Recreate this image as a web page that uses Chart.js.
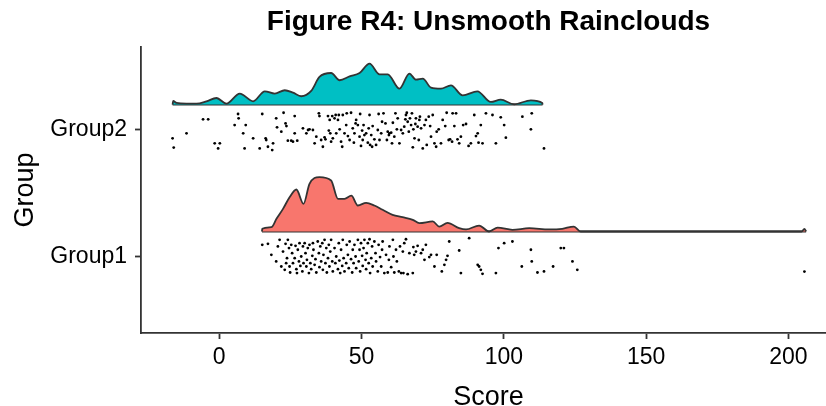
<!DOCTYPE html>
<html>
<head>
<meta charset="utf-8">
<script src="https://cdn.jsdelivr.net/npm/chart.js@4/dist/chart.umd.min.js"></script>
<style>
  html, body { margin: 0; padding: 0; background: #ffffff; overflow: hidden; }
  #wrap { width: 840px; height: 406px; }
</style>
</head>
<body>
<div id="wrap"><canvas id="c" width="840" height="406"></canvas></div>
<script>
// ---- Data ----
const groups = ["Group1", "Group2"];
const xTicks = [0, 50, 100, 150, 200];

// Raincloud densities (score, density height above the cloud baseline, in group units)
const g2DensX = [-16.4,-16.2,-15.0,-11.5,-8.0,-4.5,-1.0,2.5,7.2,11.9,16.0,19.5,23.0,25.9,28.8,32.3,35.2,39.3,42.3,45.8,49.3,52.8,56.3,59.2,63.3,66.8,69.1,71.5,74.4,77.9,81.4,85.5,90.7,95.4,98.9,103.6,109.5,113.5,113.6];
const g2DensY = [0,0.029,0.013,0.008,0.008,0.026,0.052,0.008,0.087,0.026,0.105,0.087,0.113,0.094,0.066,0.108,0.218,0.249,0.192,0.223,0.249,0.323,0.239,0.239,0.126,0.244,0.197,0.205,0.134,0.126,0.152,0.073,0.105,0.021,0.039,0.003,0.034,0.013,0];

const g1DensX = [15.0,15.1,18.3,20.1,22.4,24.7,27.1,29.6,31.7,35.2,39.3,41.7,44.0,46.4,48.7,51.6,54.5,57.4,60.9,64.4,68.0,70.3,75.0,77.3,80.2,84.3,86.7,91.3,94.8,97.8,103.0,108.9,115.9,120.5,124.6,127.0,204.6,205.6,206.2];
const g1DensY = [0,0.021,0.034,0.100,0.178,0.270,0.331,0.218,0.375,0.428,0.402,0.257,0.257,0.283,0.205,0.226,0.205,0.171,0.131,0.113,0.092,0.066,0.079,0.039,0.068,0.026,0.016,0.047,0,0.031,0.013,0.026,0.016,0.021,0.039,0,0,0.02,0];

// Rain (raw scores) and their vertical jitter around the group line
const g2Scores = [-16.4,-16.0,-11.5,-5.7,-3.9,-1.6,0.2,-0.4,5.4,6.6,6.8,8.4,8.9,9.3,11.9,14.2,15.1,16.3,16.5,17.1,18.6,18.9,20.0,20.3,21.8,22.6,23.3,23.6,24.1,25.3,25.9,26.5,26.5,27.4,29.4,30.6,31.2,31.7,32.9,33.5,34.1,35.0,35.2,35.8,36.4,37.0,37.3,38.2,38.5,38.8,39.0,39.3,39.7,39.9,40.5,40.9,41.1,41.7,42.0,42.3,42.8,43.2,43.4,44.0,44.6,44.8,45.2,45.8,46.3,46.9,47.3,47.5,47.9,48.1,48.7,49.3,49.5,49.8,50.2,50.4,50.7,51.0,51.6,52.2,52.5,52.8,53.0,53.4,53.7,53.9,54.5,55.1,55.7,56.0,56.3,56.9,57.2,57.7,58.4,58.9,59.2,59.6,59.8,60.4,60.7,61.0,61.5,61.9,62.4,62.7,63.3,63.9,64.5,65.0,65.4,65.6,65.9,66.2,66.6,67.0,67.4,67.7,68.0,68.2,68.6,68.9,69.1,69.7,70.1,70.3,70.5,70.9,71.5,72.1,72.6,72.9,73.6,74.1,74.4,75.0,75.6,76.2,76.4,77.1,77.9,78.5,79.4,79.9,80.6,81.1,81.8,82.0,82.6,83.2,83.7,84.3,84.9,85.7,86.7,87.6,88.4,89.6,90.2,90.8,91.1,91.9,92.5,93.7,96.0,97.2,98.9,100.1,100.7,106.5,109.5,109.8,114.1];
const g2Jitter = [-0.066,-0.139,-0.026,0.084,0.084,-0.105,-0.105,-0.145,0.039,0.126,0.092,-0.026,-0.145,0.039,-0.066,-0.145,0.126,-0.066,-0.079,-0.132,-0.158,-0.105,0.092,0.021,-0.013,0.136,0.052,0.031,-0.084,-0.084,-0.092,-0.026,0.110,-0.084,0.013,-0.026,0.000,0.005,0.000,-0.105,-0.053,0.131,0.110,-0.079,-0.132,-0.058,-0.074,0.110,-0.005,0.079,-0.026,-0.092,0.110,-0.066,0.092,0.118,-0.026,0.079,0.118,0.005,-0.092,-0.132,0.118,-0.026,0.039,0.131,-0.048,-0.079,0.136,0.013,-0.100,-0.026,0.052,0.079,0.039,-0.053,0.126,-0.126,-0.005,-0.079,0.039,-0.040,-0.026,-0.100,0.013,0.118,-0.118,-0.040,-0.132,0.031,-0.074,-0.118,0.000,0.126,-0.079,-0.026,0.065,0.131,0.052,-0.079,-0.013,-0.040,-0.026,-0.021,-0.105,0.057,-0.053,0.131,0.005,0.092,-0.105,0.000,-0.026,0.026,0.084,0.118,0.136,0.065,-0.013,0.092,0.039,0.131,-0.137,0.005,-0.066,0.047,0.092,0.026,-0.079,0.079,0.105,0.013,-0.145,0.039,0.079,-0.118,0.105,0.031,-0.053,0.118,-0.105,-0.132,-0.013,0.005,-0.105,0.079,0.031,0.136,-0.079,-0.074,-0.092,0.131,0.031,0.131,-0.074,-0.105,-0.053,0.039,0.047,-0.126,-0.105,0.118,-0.048,-0.026,-0.100,0.039,-0.105,0.131,0.118,-0.105,0.100,0.039,-0.061,0.105,0.005,0.131,-0.145];

const g1Scores = [15.1,17.1,18.3,20.0,20.6,21.2,21.8,22.4,23.0,23.3,23.5,23.8,24.1,24.5,24.7,24.9,25.3,25.6,25.9,26.5,26.8,27.1,27.3,27.6,28.0,28.2,28.5,28.8,29.2,29.4,29.6,30.0,30.3,30.6,30.8,31.1,31.5,31.7,32.0,32.3,32.7,32.9,33.1,33.5,33.8,34.1,34.6,35.0,35.2,35.5,35.8,36.2,36.4,36.6,37.0,37.3,37.6,37.8,38.2,38.5,38.7,39.0,39.3,39.7,39.9,40.5,40.8,41.1,41.7,42.0,42.2,42.5,42.8,43.2,43.4,43.7,44.0,44.6,44.8,45.2,45.5,45.8,46.3,46.7,46.9,47.2,47.5,47.9,48.1,48.7,49.0,49.3,49.5,49.8,50.2,50.4,50.7,51.0,51.4,51.6,51.8,52.2,52.5,52.8,53.0,53.4,53.7,53.9,54.5,54.9,55.1,55.7,56.0,56.5,56.9,57.2,57.4,58.0,58.6,59.2,59.6,59.8,60.4,61.0,61.2,61.5,62.1,62.4,63.1,63.5,63.9,64.5,64.7,65.0,65.6,66.2,66.8,68.0,68.2,68.5,69.1,69.7,70.9,71.5,72.1,72.6,73.8,74.4,75.6,76.4,78.2,79.1,79.7,80.2,80.8,84.3,84.9,87.8,90.8,91.3,91.9,92.5,97.2,98.1,100.1,103.0,106.3,109.5,109.8,111.8,114.1,117.3,120.0,121.1,124.1,125.8,205.6];
const g1Jitter = [0.095,0.103,0.016,-0.036,0.082,0.134,-0.076,0.042,-0.102,0.103,-0.050,-0.010,0.134,0.069,-0.076,-0.123,0.095,0.029,-0.050,-0.010,0.087,-0.097,-0.128,0.056,-0.036,0.108,-0.071,0.003,-0.115,0.082,-0.050,0.108,0.029,-0.076,-0.023,0.069,-0.128,0.095,-0.050,-0.097,0.008,0.108,0.056,-0.063,-0.018,-0.123,0.121,0.029,-0.081,0.082,-0.036,0.108,-0.102,0.016,0.134,-0.050,0.069,-0.123,-0.010,0.095,-0.076,0.042,0.134,-0.036,-0.115,0.069,-0.050,0.003,-0.097,0.108,-0.029,-0.128,0.056,-0.071,0.134,-0.010,-0.115,-0.050,0.095,0.016,-0.089,0.121,-0.018,-0.123,0.056,-0.050,0.095,0.003,-0.089,0.134,-0.036,0.056,-0.115,0.108,0.008,-0.071,0.069,0.134,-0.023,-0.097,0.029,0.108,-0.050,0.139,-0.128,-0.010,0.082,-0.076,0.121,0.029,-0.036,-0.115,0.095,-0.002,-0.076,0.056,0.121,-0.128,0.016,-0.123,-0.023,0.082,-0.081,0.134,0.003,-0.123,0.056,-0.036,-0.115,0.082,-0.128,0.042,-0.128,0.108,0.139,-0.136,0.029,-0.128,0.077,0.016,0.042,0.087,0.029,0.056,-0.023,0.095,-0.002,0.016,-0.076,0.016,-0.115,-0.063,-0.023,0.008,0.121,0.050,-0.128,0.147,-0.063,-0.076,-0.102,-0.134,-0.128,0.069,0.108,0.121,-0.076,0.056,-0.036,-0.123,-0.115,-0.076,0.069,0.069,-0.036,-0.102,-0.116];

// ---- Build datasets ----
const cloudOffset = 0.2; // cloud baseline sits this far above the group line
const groupPos = { Group1: 1, Group2: 2 };

function densityPoints(xs, ys, g) {
  const base = groupPos[g] + cloudOffset;
  return xs.map((x, i) => ({ x: x, y: base + ys[i] }));
}
function baseline(xs, g) {
  const base = groupPos[g] + cloudOffset;
  return [{ x: xs[0], y: base }, { x: xs[xs.length - 1], y: base }];
}
function rainPoints(scores, jit, g) {
  return scores.map((s, i) => ({ x: s, y: groupPos[g] + jit[i] }));
}

const outline = '#333333';
const datasets = [
  {
    label: 'Group2 cloud', data: densityPoints(g2DensX, g2DensY, 'Group2'),
    showLine: true, pointRadius: 0, borderColor: outline, borderWidth: 1.8,
    backgroundColor: '#00BFC4', fill: { value: groupPos.Group2 + cloudOffset },
    cubicInterpolationMode: 'monotone'
  },
  {
    label: 'Group2 base', data: baseline(g2DensX, 'Group2'),
    showLine: true, pointRadius: 0, borderColor: outline, borderWidth: 1.8, fill: false
  },
  {
    label: 'Group1 cloud', data: densityPoints(g1DensX, g1DensY, 'Group1'),
    showLine: true, pointRadius: 0, borderColor: outline, borderWidth: 1.8,
    backgroundColor: '#F8766D', fill: { value: groupPos.Group1 + cloudOffset },
    cubicInterpolationMode: 'monotone'
  },
  {
    label: 'Group1 base', data: baseline(g1DensX, 'Group1'),
    showLine: true, pointRadius: 0, borderColor: outline, borderWidth: 1.8, fill: false
  },
  {
    label: 'Group2 rain', data: rainPoints(g2Scores, g2Jitter, 'Group2'),
    showLine: false, pointRadius: 1.4, pointBorderWidth: 0,
    pointBackgroundColor: '#000000', backgroundColor: '#000000'
  },
  {
    label: 'Group1 rain', data: rainPoints(g1Scores, g1Jitter, 'Group1'),
    showLine: false, pointRadius: 1.4, pointBorderWidth: 0,
    pointBackgroundColor: '#000000', backgroundColor: '#000000'
  }
];

const FONT = '"Liberation Sans", Arial, Helvetica, sans-serif';

new Chart(document.getElementById('c'), {
  type: 'scatter',
  data: { datasets: datasets },
  options: {
    responsive: false,
    animation: false,
    devicePixelRatio: 1,
    layout: { padding: { left: 0, right: 2.5, top: 0, bottom: 0 } },
    plugins: {
      legend: { display: false },
      tooltip: { enabled: false },
      title: {
        display: true,
        text: 'Figure R4: Unsmooth Rainclouds',
        color: '#000000',
        fullSize: false,
        font: { family: FONT, size: 28, weight: 'bold', lineHeight: 1.2 },
        padding: { top: 5, bottom: 8.4 }
      }
    },
    scales: {
      x: {
        type: 'linear',
        min: -27.5, max: 216.7,
        afterBuildTicks: (s) => { s.ticks = xTicks.map(v => ({ value: v })); },
        afterFit: (s) => { s.height = 73; },
        ticks: { color: '#000000', font: { family: FONT, size: 23 }, padding: 5, maxRotation: 0 },
        grid: { display: true, drawOnChartArea: false, drawTicks: true, tickLength: 6, tickColor: '#333333', tickWidth: 1.8 },
        border: { display: true, color: '#333333', width: 1.8 },
        title: { display: true, text: 'Score', color: '#000000', font: { family: FONT, size: 27, lineHeight: 0.6 }, padding: { top: 0, bottom: 0 } }
      },
      y: {
        type: 'linear',
        min: 0.4, max: 2.654,
        afterBuildTicks: (s) => { s.ticks = groups.map(g => ({ value: groupPos[g] })); },
        afterFit: (s) => { s.width = 141; },
        ticks: {
          color: '#000000', font: { family: FONT, size: 23 }, padding: 8,
          callback: (v) => groups.find(g => groupPos[g] === v) || ''
        },
        grid: { display: true, drawOnChartArea: false, drawTicks: true, tickLength: 6, tickColor: '#333333', tickWidth: 1.8 },
        border: { display: true, color: '#333333', width: 1.8 },
        title: { display: true, text: 'Group', color: '#000000', font: { family: FONT, size: 27, lineHeight: 1.2 }, padding: { top: 9, bottom: 0 } }
      }
    }
  }
});
</script>
</body>
</html>
